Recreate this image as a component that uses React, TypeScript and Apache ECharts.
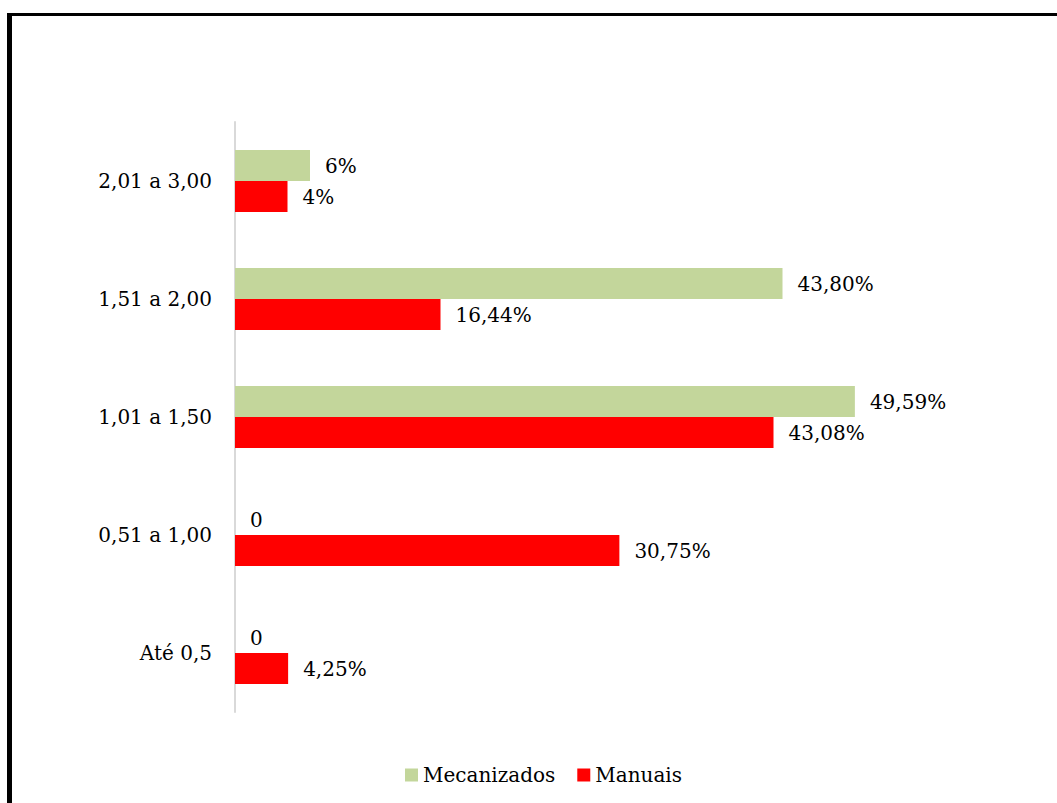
import React, { useEffect, useRef } from "react";
import * as echarts from "echarts";

const categories = ["Até 0,5", "0,51 a 1,00", "1,01 a 1,50", "1,51 a 2,00", "2,01 a 3,00"];
const mecanizados = [0, 0, 49.59, 43.8, 6];
const mecanizadosLabels = ["0", "0", "49,59%", "43,80%", "6%"];
const manuais = [4.25, 30.75, 43.08, 16.44, 4.2];
const manuaisLabels = ["4,25%", "30,75%", "43,08%", "16,44%", "4%"];

const FONT = "'DejaVu Serif', serif";

export default function App() {
  const ref = useRef<HTMLDivElement>(null);
  useEffect(() => {
    if (!ref.current) return;
    const chart = echarts.init(ref.current, null, { renderer: "svg" });
    chart.setOption({
      animation: false,
      backgroundColor: "#ffffff",
      grid: { left: 235, top: 122, width: 750, height: 590 },
      legend: {
        data: ["Mecanizados", "Manuais"],
        left: 400,
        top: 760,
        icon: "rect",
        itemWidth: 13,
        itemHeight: 13,
        itemGap: 22,
        textStyle: { fontFamily: FONT, fontSize: 20, color: "#000" },
      },
      xAxis: {
        type: "value",
        min: 0,
        max: 60,
        show: false,
        splitLine: { show: false },
      },
      yAxis: {
        type: "category",
        data: categories,
        axisLine: { show: true, lineStyle: { color: "#d9d9d9", width: 2 } },
        axisTick: { show: false },
        axisLabel: { fontFamily: FONT, fontSize: 20, color: "#000", margin: 23 },
      },
      series: [
        {
          name: "Mecanizados",
          type: "bar",
          data: mecanizados,
          barWidth: 31,
          barGap: "0%",
          itemStyle: { color: "#c3d69b" },
          label: {
            show: true,
            position: "right",
            distance: 15,
            fontFamily: FONT,
            fontSize: 20,
            color: "#000",
            formatter: (p: any) => mecanizadosLabels[p.dataIndex],
          },
        },
        {
          name: "Manuais",
          type: "bar",
          data: manuais,
          barWidth: 31,
          barGap: "0%",
          itemStyle: { color: "#ff0000" },
          label: {
            show: true,
            position: "right",
            distance: 15,
            fontFamily: FONT,
            fontSize: 20,
            color: "#000",
            formatter: (p: any) => manuaisLabels[p.dataIndex],
          },
        },
      ],
    });
    return () => chart.dispose();
  }, []);
  return (
    <div style={{ position: "fixed", left: 0, top: 0, width: 1057, height: 803, background: "#fff" }}>
      <div ref={ref} style={{ position: "absolute", left: 0, top: 0, width: 1057, height: 803 }} />
      <div
        style={{
          position: "absolute",
          left: 7,
          top: 13,
          width: 1057,
          height: 803,
          borderLeft: "5px solid #000",
          borderTop: "3px solid #000",
          pointerEvents: "none",
        }}
      />
    </div>
  );
}
